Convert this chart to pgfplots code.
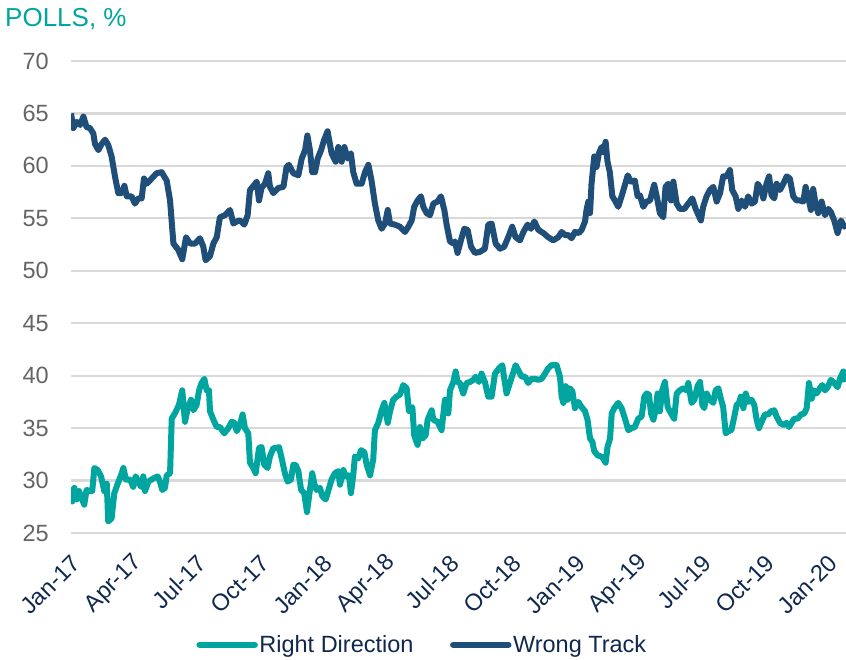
\documentclass[border=0pt]{standalone}
\usepackage{fontspec}
\setmainfont{Liberation Sans}
\usepackage{pgfplots}
\pgfplotsset{compat=1.18}
\definecolor{teal}{RGB}{0,165,160}
\definecolor{navy}{RGB}{31,78,121}
\definecolor{darknavy}{RGB}{16,40,78}
\definecolor{ticklab}{RGB}{100,100,100}
\definecolor{gridc}{RGB}{217,217,217}
\begin{document}
\begin{tikzpicture}[x=1pt,y=1pt]
\path[use as bounding box] (0,0) rectangle (846,660);
\node[anchor=base west, inner sep=0pt, text=teal, font=\fontsize{26}{30}\selectfont] at (5,633) {POLLS, \%};
\begin{axis}[
  at={(71pt,127pt)}, anchor=south west,
  width=775pt, height=472pt, scale only axis,
  xmin=0, xmax=36.85, ymin=25, ymax=70,
  ytick={25,30,...,70},
  xtick={0,3,...,36},
  xticklabels={Jan-17,Apr-17,Jul-17,Oct-17,Jan-18,Apr-18,Jul-18,Oct-18,Jan-19,Apr-19,Jul-19,Oct-19,Jan-20},
  axis line style={draw=none},
  major tick length=0pt,
  ymajorgrids,
  grid style={gridc, line width=2.2pt},
  /pgf/number format/assume math mode=true,
  yticklabel style={font=\fontsize{23.5}{28}\selectfont, text=ticklab, inner sep=0pt, anchor=east, xshift=-22pt},
  xticklabel style={font=\fontsize{23.5}{28}\selectfont, text=darknavy, inner sep=0pt, xshift=5pt, yshift=-26pt, rotate=45, anchor=east},
  legend style={at={(0.453,-0.237)}, anchor=center, draw=none, fill=none,
    legend columns=2, font=\fontsize{23.5}{28}\selectfont, text=darknavy,
    /tikz/every even column/.append style={column sep=35pt},
    nodes={inner sep=1.5pt}},
  legend cell align=left,
  legend image code/.code={\draw[line width=6.5pt, line cap=round] (0pt,0pt) -- (55pt,0pt);},
  every axis plot/.append style={line width=6pt, line join=round},
]
\addplot[teal, mark=none] coordinates {
(0.00,29.4)(0.06,28.0)(0.16,29.3)(0.27,28.2)(0.38,29.0)(0.51,28.3)(0.63,27.7)(0.74,29.1)(0.90,29.0)(1.01,29.0)
(1.11,31.2)(1.27,31.0)(1.43,30.4)(1.58,29.0)(1.70,29.7)(1.77,26.1)(1.93,26.4)(2.06,28.8)(2.22,29.7)(2.38,30.5)
(2.49,31.2)(2.61,30.1)(2.81,30.1)(2.96,29.4)(3.07,30.4)(3.20,29.9)(3.33,29.4)(3.44,30.4)(3.52,29.0)(3.68,29.9)
(3.91,30.2)(4.12,30.4)(4.23,29.9)(4.34,29.1)(4.47,29.3)(4.55,30.5)(4.71,30.7)(4.79,35.9)(4.94,36.4)(5.13,37.2)
(5.29,38.6)(5.42,35.6)(5.55,36.9)(5.71,37.7)(5.82,36.7)(5.97,37.2)(6.09,38.6)(6.21,39.3)(6.34,39.7)(6.45,38.6)
(6.56,38.6)(6.61,36.6)(6.77,35.8)(6.93,35.1)(7.08,35.1)(7.29,34.5)(7.48,35.0)(7.64,35.6)(7.77,35.5)(7.88,34.7)
(8.03,35.3)(8.16,36.3)(8.27,35.0)(8.43,34.5)(8.51,31.7)(8.67,31.2)(8.78,30.7)(8.94,33.1)(9.06,33.2)(9.19,31.5)
(9.35,31.2)(9.46,32.3)(9.62,33.1)(9.78,33.1)(9.89,33.2)(10.02,32.1)(10.17,30.7)(10.30,29.9)(10.46,30.1)(10.57,31.5)
(10.68,31.5)(10.81,30.9)(10.94,29.1)(11.09,28.8)(11.22,27.0)(11.36,29.1)(11.47,30.7)(11.57,29.7)(11.68,29.1)(11.84,29.3)
(11.95,28.5)(12.11,28.2)(12.23,29.0)(12.39,30.1)(12.55,30.7)(12.71,30.9)(12.79,29.6)(12.95,31.0)(13.06,30.4)(13.22,30.5)
(13.31,28.8)(13.42,30.5)(13.50,32.3)(13.66,32.1)(13.79,32.9)(13.95,32.7)(14.06,31.5)(14.22,30.5)(14.37,32.0)(14.45,34.8)
(14.61,35.5)(14.77,36.7)(14.90,37.4)(15.06,35.5)(15.17,36.6)(15.32,37.7)(15.48,38.0)(15.64,38.2)(15.80,39.1)(15.96,38.8)
(16.07,36.6)(16.23,37.0)(16.32,34.3)(16.48,33.4)(16.59,35.1)(16.70,34.0)(16.86,34.3)(16.96,35.8)(17.15,36.7)(17.23,35.8)
(17.43,35.6)(17.62,34.8)(17.78,37.7)(17.94,36.4)(18.02,38.6)(18.18,39.4)(18.29,40.4)
(18.38,39.4)(18.49,39.3)(18.65,38.3)(18.81,39.3)(18.97,39.4)(19.13,39.6)(19.24,39.9)(19.40,39.4)(19.52,40.2)(19.68,39.4)
(19.84,38.0)(20.00,38.0)(20.16,40.2)(20.35,40.7)(20.51,41.0)(20.60,39.7)(20.71,38.3)(20.82,39.0)(20.98,40.0)(21.14,41.0)
(21.30,40.4)(21.43,39.9)(21.59,39.9)(21.74,39.3)(21.90,39.7)(22.06,39.7)(22.22,39.6)(22.38,39.7)(22.54,40.2)(22.69,40.7)
(22.85,41.0)(23.09,41.0)(23.25,39.9)(23.33,38.0)(23.41,37.4)(23.52,39.0)(23.61,37.7)(23.72,38.8)(23.84,38.5)(23.96,36.9)
(24.12,37.5)(24.28,37.0)(24.44,36.6)(24.56,35.8)(24.68,34.0)(24.79,33.7)(24.88,32.8)(25.04,32.4)(25.20,32.3)(25.31,32.1)
(25.42,31.7)(25.51,33.2)(25.63,34.0)(25.71,36.4)(25.83,36.9)(26.02,37.4)(26.18,36.9)(26.34,35.9)(26.50,34.8)(26.66,35.0)
(26.81,35.1)(26.97,35.9)(27.13,36.1)(27.26,38.0)(27.37,38.3)(27.48,38.2)(27.58,36.4)(27.69,35.8)(27.80,36.7)(27.89,38.3)
(28.00,36.6)(28.11,38.6)(28.24,39.4)(28.37,37.0)(28.53,36.4)(28.68,35.9)(28.80,38.3)(28.95,38.6)(29.11,38.8)(29.27,38.6)
(29.35,39.3)(29.51,37.4)(29.64,37.7)(29.79,39.0)(29.91,39.4)(30.02,37.2)(30.11,36.9)(30.22,38.3)(30.38,37.7)(30.54,37.4)
(30.65,38.6)(30.78,38.8)(30.90,37.8)(31.01,37.0)(31.13,34.5)(31.24,34.7)(31.40,34.8)(31.54,36.1)(31.65,37.2)(31.76,37.4)
(31.85,38.0)(31.97,36.9)(32.08,38.3)(32.20,37.5)(32.36,37.7)(32.49,37.2)(32.60,35.8)(32.71,35.0)(32.84,35.6)(32.99,36.3)
(33.15,36.3)(33.28,36.6)(33.44,36.7)(33.55,36.1)(33.71,35.5)(33.87,35.3)(34.03,35.5)(34.14,35.1)(34.26,35.5)(34.39,35.9)
(34.55,35.9)(34.71,36.3)(34.87,36.4)(34.98,36.9)(35.09,39.3)(35.22,37.8)(35.34,38.6)(35.45,38.3)(35.61,38.8)(35.72,39.1)
(35.85,38.6)(35.98,38.9)(36.13,39.6)(36.29,39.3)(36.45,38.9)(36.56,39.7)(36.72,40.4)(36.83,39.4)
};
\addlegendentry{Right Direction}
\addplot[navy, mark=none] coordinates {
(0.00,65.0)(0.11,63.6)(0.27,64.2)(0.43,63.9)(0.59,64.7)(0.74,63.7)(0.90,63.6)(1.06,63.1)(1.14,62.1)(1.30,61.5)
(1.46,62.1)(1.62,62.5)(1.77,62.0)(1.93,60.9)(2.09,59.0)(2.25,57.4)(2.41,57.4)(2.54,58.1)(2.65,57.1)(2.88,57.1)
(3.04,56.4)(3.20,56.9)(3.36,56.9)(3.47,58.8)(3.60,58.3)(3.84,58.8)(4.07,59.3)(4.31,59.4)(4.55,58.6)(4.71,56.7)
(4.87,52.6)(5.10,52.0)(5.29,51.1)(5.47,53.2)(5.66,52.6)(5.90,52.6)(6.13,53.1)(6.29,52.3)(6.40,51.0)(6.61,51.4)
(6.77,52.6)(6.93,53.2)(7.08,55.1)(7.32,55.3)(7.56,55.8)(7.72,54.5)(7.88,54.7)(8.03,54.8)(8.24,54.4)(8.40,55.3)
(8.51,57.7)(8.72,58.2)(8.83,58.5)(8.94,56.7)(9.06,57.9)(9.22,58.3)(9.38,59.3)(9.46,58.0)(9.62,57.4)(9.86,57.9)
(10.10,58.0)(10.25,59.9)(10.36,60.1)(10.57,59.3)(10.81,59.1)(10.97,60.7)(11.13,61.5)(11.24,62.9)(11.36,61.5)(11.47,59.4)
(11.60,59.4)(11.73,60.7)(11.89,61.5)(12.04,62.5)(12.20,63.3)(12.39,61.2)(12.58,60.4)(12.71,61.8)(12.87,60.4)(13.00,61.8)
(13.15,60.7)(13.31,61.2)(13.42,59.4)(13.58,58.3)(13.82,58.3)(13.98,59.4)(14.14,60.1)(14.29,58.6)(14.45,56.4)(14.61,54.8)
(14.77,54.0)(14.93,54.5)(15.06,55.8)(15.17,54.5)(15.40,54.4)(15.64,54.2)(15.88,53.7)(16.04,54.2)(16.20,54.8)(16.32,56.1)
(16.48,56.7)(16.64,57.1)(16.75,56.1)(16.91,55.5)(17.07,55.3)(17.23,56.4)(17.43,56.6)(17.59,57.1)(17.75,55.8)(17.86,54.4)
(18.02,52.8)(18.18,52.6)(18.26,52.8)(18.38,51.7)(18.54,52.9)(18.70,54.0)(18.86,53.9)(19.02,52.3)(19.21,51.7)(19.44,51.8)
(19.68,52.1)(19.84,54.4)(20.00,54.5)(20.19,52.6)(20.40,52.1)(20.60,52.3)(20.79,53.2)(20.98,54.2)(21.14,53.2)(21.35,52.9)
(21.51,53.7)(21.71,54.4)(21.87,54.0)(22.03,54.7)(22.22,53.9)(22.46,53.6)(22.69,53.2)(22.93,52.9)(23.17,53.2)(23.33,53.7)
(23.49,53.4)(23.65,53.4)(23.80,53.1)(23.96,53.7)(24.15,53.6)(24.28,53.9)(24.44,54.7)(24.52,55.9)(24.60,56.6)(24.68,55.5)
(24.75,58.3)(24.88,60.9)(24.99,59.9)(25.10,61.2)(25.23,61.8)(25.32,61.3)(25.42,62.3)(25.51,60.4)(25.62,59.4)(25.74,57.1)
(25.86,56.7)(26.02,56.1)(26.18,57.1)(26.34,58.2)(26.47,59.1)(26.62,58.5)(26.81,58.6)(26.94,57.1)(27.05,57.2)(27.21,56.1)
(27.37,56.6)(27.53,56.7)(27.73,58.2)(27.85,57.1)(28.00,55.5)(28.16,55.1)(28.27,58.0)(28.40,58.3)(28.53,56.7)(28.64,58.5)
(28.80,56.4)(28.95,55.9)(29.16,55.9)(29.35,56.4)(29.54,56.9)(29.70,55.9)(29.79,55.5)(29.95,54.8)(30.06,56.1)(30.22,57.1)
(30.38,57.7)(30.54,58.0)(30.70,56.6)(30.86,57.4)(31.01,59.0)(31.17,59.0)(31.33,59.6)(31.44,57.7)(31.60,57.1)(31.73,55.9)
(31.89,56.7)(32.05,56.1)(32.20,57.1)(32.36,56.4)(32.52,56.6)(32.65,58.3)(32.81,57.8)(32.92,56.9)(33.07,58.3)(33.19,59.0)
(33.31,57.2)(33.44,56.9)(33.55,58.3)(33.71,57.7)(33.87,58.3)(34.03,59.0)(34.18,58.8)(34.34,57.1)(34.50,56.7)(34.66,56.7)
(34.82,56.6)(34.93,58.0)(35.09,56.7)(35.18,55.8)(35.29,57.8)(35.40,56.4)(35.53,55.5)(35.69,56.6)(35.85,55.3)(36.01,55.9)
(36.13,55.6)(36.29,54.8)(36.45,53.6)(36.61,54.8)(36.77,54.2)(36.85,54.5)
};
\addlegendentry{Wrong Track}
\end{axis}
\end{tikzpicture}
\end{document}
